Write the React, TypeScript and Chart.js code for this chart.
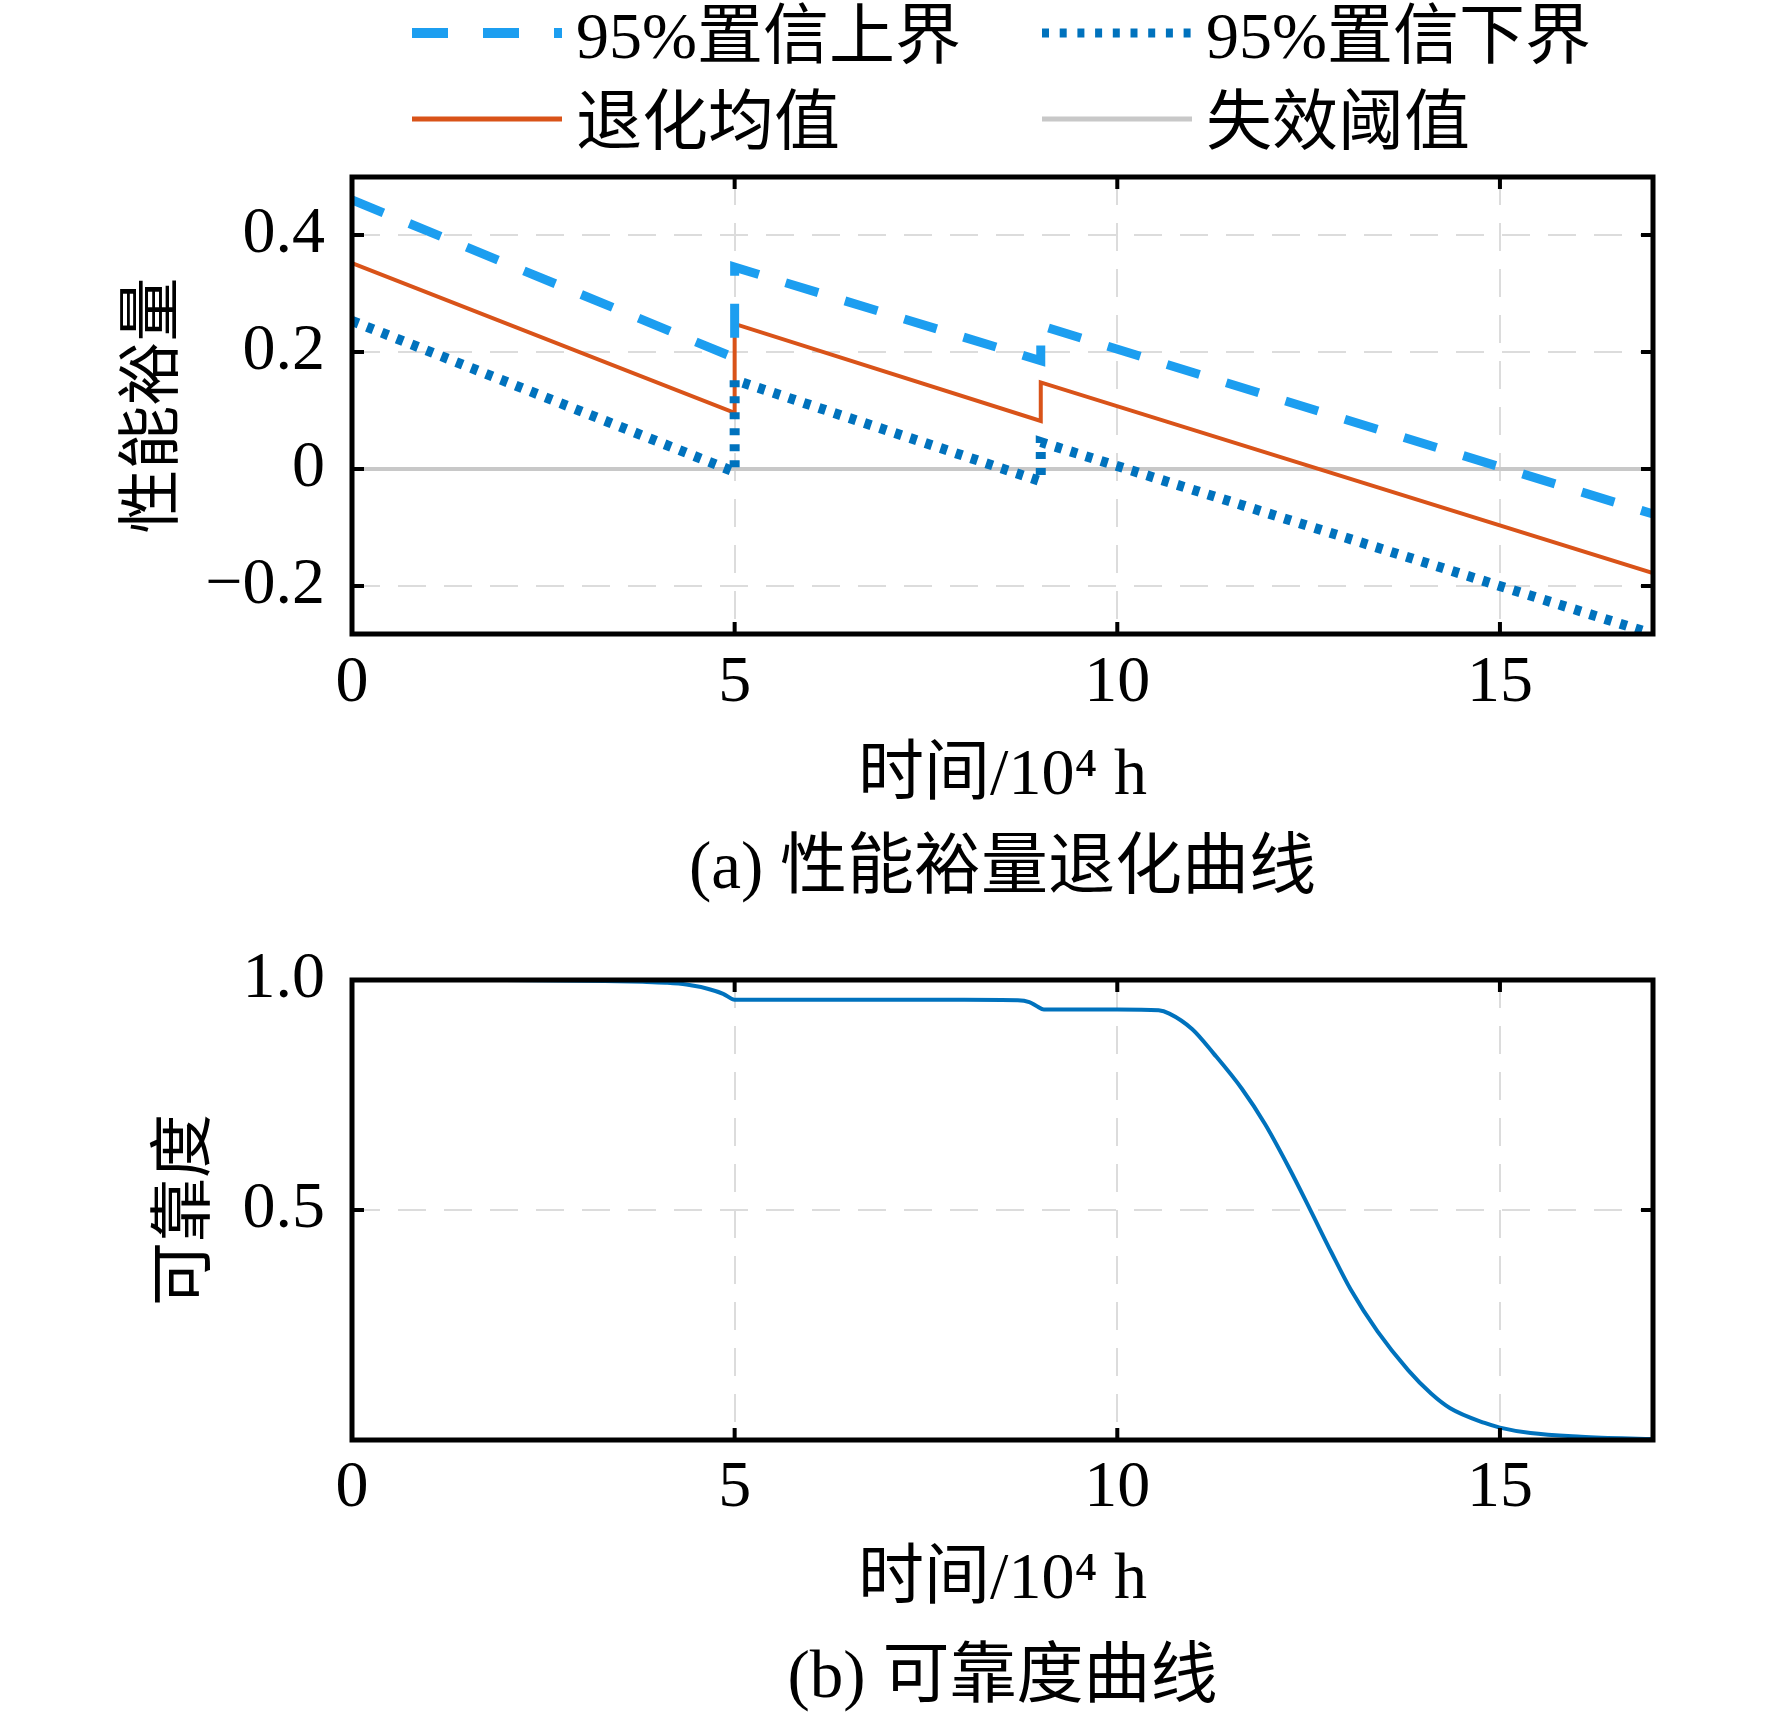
import React, { useEffect, useRef } from "react"
import Chart from "chart.js/auto"

// (a) 性能裕量退化曲线
const degradationTime = [0, 5, 5, 9, 9, 17]
const upperBound = [0.46, 0.19, 0.345, 0.185, 0.245, -0.077]
const lowerBound = [0.253, -0.005, 0.152, -0.021, 0.046, -0.282]
const meanDegradation = [0.352, 0.096, 0.248, 0.082, 0.148, -0.178]
const thresholdTime = [0, 17]
const thresholdValue = [0, 0]

// (b) 可靠度曲线
const reliabilityTime = [
  0, 2, 3.3, 3.8, 4.1, 4.37, 4.67, 4.85, 5.0, 6, 8, 8.7, 8.85, 8.95, 9.04, 10,
  10.54, 10.68, 10.98, 11.26, 11.63, 11.93, 12.24, 12.52, 12.8, 13.05, 13.4,
  13.8, 14.1, 14.35, 14.8, 15.0, 15.4, 16.06, 16.7, 17,
]
const reliabilityValue = [
  1, 1, 0.998, 0.996, 0.994, 0.99, 0.98, 0.97, 0.957, 0.957, 0.957, 0.956,
  0.952, 0.943, 0.936, 0.936, 0.934, 0.927, 0.893, 0.84, 0.763, 0.687, 0.593,
  0.501, 0.407, 0.327, 0.236, 0.152, 0.101, 0.069, 0.037, 0.027, 0.015, 0.007,
  0.003, 0.002,
]

const timeTicks = [0, 5, 10, 15]
const marginTicks = [0.4, 0.2, 0, -0.2]
const marginTickLabels = ["0.4", "0.2", "0", "\u22120.2"]
const reliabilityTicks = [1.0, 0.5]
const reliabilityTickLabels = ["1.0", "0.5"]

const FONT = "'Liberation Serif', 'Times New Roman', 'Noto Sans CJK SC', serif"
const UPPER_COLOR = "rgb(28,158,240)"
const LOWER_COLOR = "rgb(0,114,189)"
const MEAN_COLOR = "rgb(217,83,25)"
const THRESHOLD_COLOR = "rgb(200,200,200)"

const toPoints = (xs: number[], ys: number[]) => xs.map((x, i) => ({ x, y: ys[i] }))

// box round the plot with MATLAB-style inward ticks on all four sides
const framePlugin = {
  id: "frame",
  afterDatasetsDraw(chart: any) {
    const { ctx, chartArea: a, scales } = chart
    const len = 12
    ctx.save()
    ctx.strokeStyle = "#000"
    ctx.lineWidth = 4
    ctx.lineCap = "butt"
    ctx.setLineDash([])
    ctx.beginPath()
    for (const t of scales.x.ticks) {
      const px = scales.x.getPixelForValue(t.value)
      if (px < a.left + 3 || px > a.right - 3) continue
      ctx.moveTo(px, a.bottom)
      ctx.lineTo(px, a.bottom - len)
      ctx.moveTo(px, a.top)
      ctx.lineTo(px, a.top + len)
    }
    for (const t of scales.y.ticks) {
      const py = scales.y.getPixelForValue(t.value)
      if (py < a.top + 3 || py > a.bottom - 3) continue
      ctx.moveTo(a.left, py)
      ctx.lineTo(a.left + len, py)
      ctx.moveTo(a.right, py)
      ctx.lineTo(a.right - len, py)
    }
    ctx.stroke()
    ctx.lineWidth = 5
    ctx.strokeRect(a.left, a.top, a.right - a.left, a.bottom - a.top)
    ctx.restore()
  },
}

interface PanelProps {
  datasets: any[]
  yMin: number
  yMax: number
  yTicks: number[]
  yLabels: string[]
  yTitle: string
  yTitlePad: number
  top: number
  height: number
  padTop: number
  xTickPad: number
  xTitlePad: number
}

function Panel(props: PanelProps) {
  const ref = useRef<HTMLCanvasElement>(null)
  const { datasets, yMin, yMax, yTicks, yLabels, yTitle, yTitlePad, top, height, padTop, xTickPad, xTitlePad } = props

  useEffect(() => {
    let chart: Chart | null = null
    if (ref.current) {
      chart = new Chart(ref.current, {
        type: "line",
        data: { datasets },
        plugins: [framePlugin],
        options: {
          responsive: false,
          animation: false,
          devicePixelRatio: 1,
          events: [],
          layout: { padding: { top: padTop, right: 119, bottom: 0, left: 0 } },
          elements: { point: { radius: 0 }, line: { tension: 0, borderCapStyle: "butt" } },
          plugins: { legend: { display: false }, tooltip: { enabled: false } },
          scales: {
            x: {
              type: "linear",
              min: 0,
              max: 17,
              afterBuildTicks: (scale: any) => {
                scale.ticks = timeTicks.map((v) => ({ value: v }))
              },
              afterFit: (scale: any) => {
                scale.height = height - padTop - 457 - (height === 820 ? 0 : 3)
              },
              ticks: {
                autoSkip: false,
                maxRotation: 0,
                padding: xTickPad,
                color: "#000",
                font: { family: FONT, size: 66 },
                callback: (v: any) => String(v),
              },
              grid: { color: "#dcdcdc", lineWidth: 2, drawTicks: false },
              border: { display: false, dash: [28, 18] },
              title: {
                display: true,
                text: "时间/10\u2074 h",
                color: "#000",
                font: { family: FONT, size: 66 },
                padding: { top: 0, bottom: xTitlePad },
              },
            },
            y: {
              type: "linear",
              min: yMin,
              max: yMax,
              afterBuildTicks: (scale: any) => {
                scale.ticks = yTicks.map((v) => ({ value: v }))
              },
              afterFit: (scale: any) => {
                scale.width = 352
              },
              ticks: {
                autoSkip: false,
                padding: 27,
                color: "#000",
                font: { family: FONT, size: 66 },
                callback: (v: any) => {
                  const i = yTicks.findIndex((t) => Math.abs(t - Number(v)) < 1e-9)
                  return i >= 0 ? yLabels[i] : ""
                },
              },
              grid: { color: "#dcdcdc", lineWidth: 2, drawTicks: false },
              border: { display: false, dash: [28, 18] },
              title: {
                display: true,
                text: yTitle,
                color: "#000",
                font: { family: FONT, size: 64 },
                padding: { top: yTitlePad, bottom: 0 },
              },
            },
          },
        } as any,
      })
    }
    return () => {
      chart?.destroy()
    }
  }, [])

  return (
    <canvas
      ref={ref}
      width={1772}
      height={height}
      style={{ position: "absolute", left: 0, top, width: 1772, height }}
    />
  )
}

const legendItems = [
  { label: "95%置信上界", color: UPPER_COLOR, width: 10, dash: "36 35", x: 412, y: 33 },
  { label: "95%置信下界", color: LOWER_COLOR, width: 9, dash: "7 10.7", x: 1042, y: 33 },
  { label: "退化均值", color: MEAN_COLOR, width: 5, dash: "", x: 412, y: 119 },
  { label: "失效阈值", color: THRESHOLD_COLOR, width: 5, dash: "", x: 1042, y: 119 },
]

export default function App() {
  const degradationSets = [
    {
      label: "95%置信下界",
      data: toPoints(degradationTime, lowerBound),
      borderColor: LOWER_COLOR,
      borderWidth: 10,
      borderDash: [7, 9],
      order: 0,
    },
    {
      label: "95%置信上界",
      data: toPoints(degradationTime, upperBound),
      borderColor: UPPER_COLOR,
      borderWidth: 9,
      borderDash: [34, 28],
      order: 1,
    },
    {
      label: "退化均值",
      data: toPoints(degradationTime, meanDegradation),
      borderColor: MEAN_COLOR,
      borderWidth: 4,
      order: 2,
    },
    {
      label: "失效阈值",
      data: toPoints(thresholdTime, thresholdValue),
      borderColor: THRESHOLD_COLOR,
      borderWidth: 4,
      order: 3,
    },
  ]
  const reliabilitySets = [
    {
      label: "可靠度",
      data: toPoints(reliabilityTime, reliabilityValue),
      borderColor: LOWER_COLOR,
      borderWidth: 4,
      cubicInterpolationMode: "monotone",
    },
  ]

  const caption = {
    position: "absolute" as const,
    left: 352,
    width: 1301,
    height: 80,
    lineHeight: "80px",
    textAlign: "center" as const,
    fontFamily: FONT,
    fontSize: 67,
    color: "#000",
    whiteSpace: "nowrap" as const,
  }

  return (
    <div style={{ position: "absolute", left: 0, top: 0, width: 1772, height: 1712, background: "#fff" }}>
      <Panel
        datasets={degradationSets}
        yMin={-0.282}
        yMax={0.499}
        yTicks={marginTicks}
        yLabels={marginTickLabels}
        yTitle="性能裕量"
        yTitlePad={117}
        top={0}
        height={820}
        padTop={177}
        xTickPad={10}
        xTitlePad={4}
      />
      <Panel
        datasets={reliabilitySets}
        yMin={0}
        yMax={1}
        yTicks={reliabilityTicks}
        yLabels={reliabilityTickLabels}
        yTitle="可靠度"
        yTitlePad={149}
        top={860}
        height={760}
        padTop={120}
        xTickPad={9}
        xTitlePad={0}
      />
      {legendItems.map((it) => (
        <div key={it.label}>
          <svg
            width={150}
            height={20}
            style={{ position: "absolute", left: it.x, top: it.y - 10 }}
          >
            <line
              x1={0}
              y1={10}
              x2={150}
              y2={10}
              stroke={it.color}
              strokeWidth={it.width}
              strokeDasharray={it.dash || undefined}
            />
          </svg>
          <div
            style={{
              position: "absolute",
              left: it.x + 164,
              top: it.y - 37,
              height: 80,
              lineHeight: "80px",
              fontFamily: FONT,
              fontSize: 66,
              color: "#000",
              whiteSpace: "nowrap",
            }}
          >
            {it.label}
          </div>
        </div>
      ))}
      <div style={{ ...caption, top: 825 }}>(a) 性能裕量退化曲线</div>
      <div style={{ ...caption, top: 1634 }}>(b) 可靠度曲线</div>
    </div>
  )
}
